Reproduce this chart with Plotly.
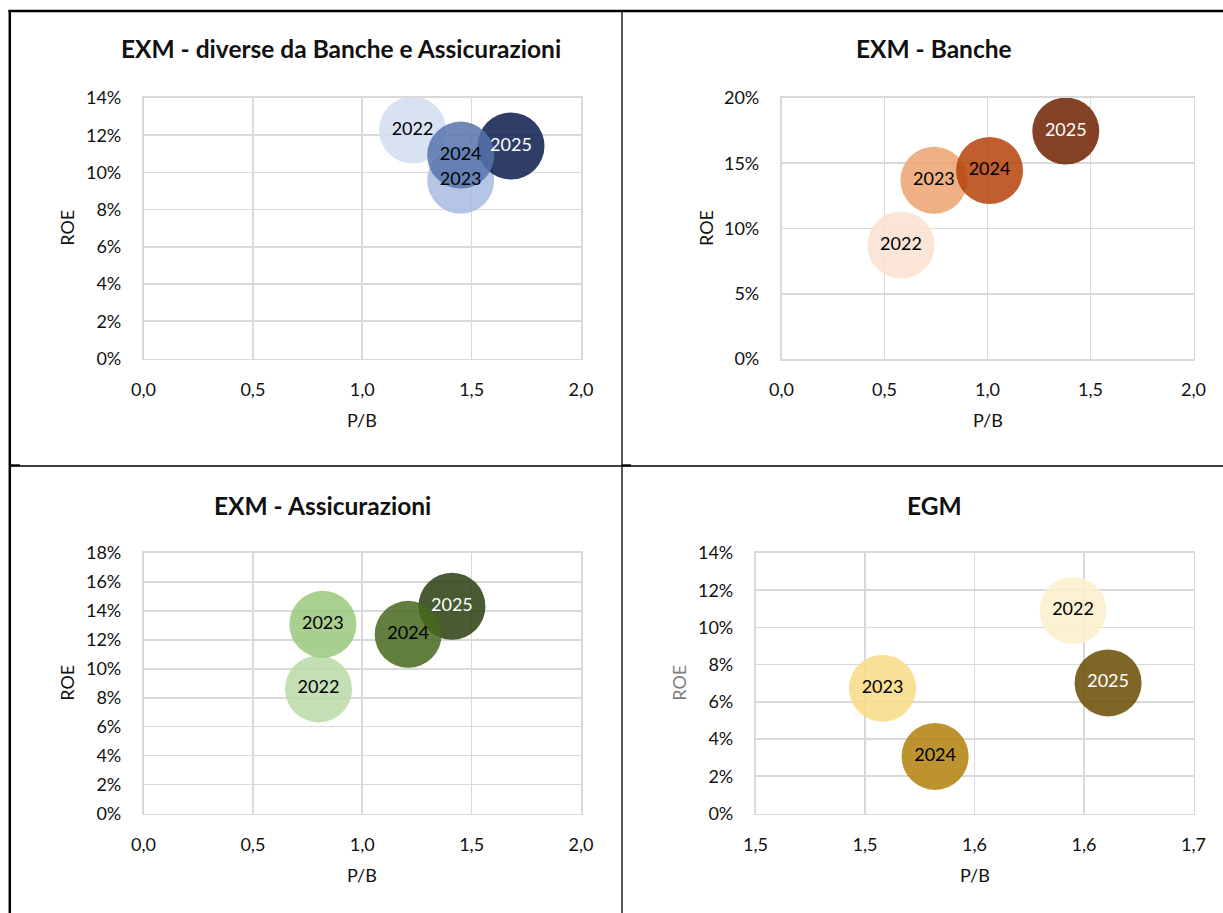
import plotly.graph_objects as go

W, H = 1223, 913

# ---------------- data ----------------
years = ["2022", "2023", "2024", "2025"]

pb_altre = [1.23, 1.45, 1.45, 1.68]
roe_altre = [0.1228, 0.0958, 0.1093, 0.1142]

pb_banche = [0.58, 0.74, 1.01, 1.38]
roe_banche = [0.0873, 0.1370, 0.1444, 0.1747]

pb_assic = [0.80, 0.82, 1.21, 1.41]
roe_assic = [0.0861, 0.1307, 0.1238, 0.1432]

pb_egm = [1.595, 1.508, 1.532, 1.611]
roe_egm = [0.1091, 0.0673, 0.0307, 0.0702]

titles = ["EXM - diverse da Banche e Assicurazioni", "EXM - Banche",
          "EXM - Assicurazioni", "EGM"]

x_ticks_std = [0.0, 0.5, 1.0, 1.5, 2.0]
x_ticks_egm = [1.45, 1.50, 1.55, 1.60, 1.65]
x_ticktext_egm = ["1,5", "1,5", "1,6", "1,6", "1,7"]

# ---------------- styles ----------------
col_altre = ["#D9E2F3", "#B4C5E6", "#6F88B8", "#2E3E67"]
col_banche = ["#FBE5D7", "#EEB084", "#C05E2D", "#834224"]
col_assic = ["#C5DFB4", "#A9D08E", "#627F3F", "#4A5A33"]
col_egm = ["#FCF2D3", "#F8E097", "#BC932F", "#7F6528"]
txtcol = ["black", "black", "black", "white"]

ALPHA = 0.85


def rgba_on_white(hexc, a=ALPHA):
    h = hexc.lstrip("#")
    t = [int(h[i:i + 2], 16) for i in (0, 2, 4)]
    b = [max(0, min(255, round((v - (1 - a) * 255) / a))) for v in t]
    return f"rgba({b[0]},{b[1]},{b[2]},{a})"


def px_x(x):
    return x / W


def px_y(y):
    return 1 - y / H


FONT = "Lato, Carlito, 'Open Sans', sans-serif"
FS = 18

# plot-area rectangles in pixels: (left, top, right, bottom)
areas = [
    (143.5, 98.0, 581.0, 358.5),
    (781.5, 98.0, 1193.5, 359.0),
    (143.5, 553.0, 581.0, 813.5),
    (755.5, 553.0, 1193.5, 813.5),
]

panels = [
    (pb_altre, roe_altre, col_altre, [0, 1, 3, 2], [0, 2], [0, 0.14], 0.02),
    (pb_banche, roe_banche, col_banche, [0, 1, 2, 3], [0, 2], [0, 0.20], 0.05),
    (pb_assic, roe_assic, col_assic, [0, 1, 3, 2], [0, 2], [0, 0.18], 0.02),
    (pb_egm, roe_egm, col_egm, [0, 1, 2, 3], [1.45, 1.65], [0, 0.14], 0.02),
]

fig = go.Figure()
layout_axes = {}
annotations = []

for i, (pb, roe, cols, order, xr, yr, ydt) in enumerate(panels):
    n = i + 1
    xa = "x" if n == 1 else f"x{n}"
    ya = "y" if n == 1 else f"y{n}"
    l, t, r, b = areas[i]
    fig.add_trace(go.Scatter(
        x=[pb[k] for k in order],
        y=[roe[k] for k in order],
        text=[years[k] for k in order],
        mode="markers+text",
        textposition="middle center",
        textfont=dict(family=FONT, size=FS, color=[txtcol[k] for k in order]),
        marker=dict(size=67, sizemode="diameter",
                    color=[rgba_on_white(cols[k]) for k in order],
                    line=dict(width=0)),
        xaxis=xa, yaxis=ya, showlegend=False, hoverinfo="x+y+text",
        cliponaxis=False,
    ))
    xkey = "xaxis" if n == 1 else f"xaxis{n}"
    ykey = "yaxis" if n == 1 else f"yaxis{n}"
    xdict = dict(
        domain=[px_x(l), px_x(r)], range=xr, anchor=ya, automargin=False,
        showgrid=True, gridcolor="#D9D9D9", gridwidth=1.6,
        showline=True, linecolor="#D9D9D9", linewidth=1.6, mirror=True,
        zeroline=False, ticks="outside", ticklen=14, tickcolor="rgba(0,0,0,0)",
        tickfont=dict(family=FONT, size=FS, color="#111111"),
        fixedrange=True,
    )
    if i == 3:
        xdict.update(tickmode="array", tickvals=x_ticks_egm, ticktext=x_ticktext_egm)
    else:
        xdict.update(tickmode="array", tickvals=x_ticks_std, tickformat=".1f")
    ydict = dict(
        domain=[px_y(b), px_y(t)], range=yr, anchor=xa, automargin=False,
        dtick=ydt, tick0=0, tickformat=".0%",
        showgrid=True, gridcolor="#D9D9D9", gridwidth=1.6,
        showline=True, linecolor="#D9D9D9", linewidth=1.6, mirror=True,
        zeroline=False, ticks="outside", ticklen=17, tickcolor="rgba(0,0,0,0)",
        tickfont=dict(family=FONT, size=FS, color="#111111"),
        fixedrange=True,
    )
    layout_axes[xkey] = xdict
    layout_axes[ykey] = ydict

    cx = (l + r) / 2
    cy = (t + b) / 2
    # axis titles
    annotations.append(dict(
        x=px_x(cx), y=px_y(b + 61), xref="paper", yref="paper",
        text="P/B", showarrow=False, xanchor="center", yanchor="middle",
        font=dict(family=FONT, size=FS, color="#111111")))
    annotations.append(dict(
        x=px_x(l - 76), y=px_y(cy), xref="paper", yref="paper",
        text="ROE", showarrow=False, textangle=-90,
        xanchor="center", yanchor="middle",
        font=dict(family=FONT, size=FS,
                  color="#7F7F7F" if i == 3 else "#111111")))

# chart titles
title_pos = [(341, 49), (934, 49), (322, 505), (934, 505)]
for (tx, ty), ttl in zip(title_pos, titles):
    annotations.append(dict(
        x=px_x(tx), y=px_y(ty), xref="paper", yref="paper",
        text=f"<b>{ttl}</b>", showarrow=False, xanchor="center", yanchor="middle",
        font=dict(family=FONT, size=24.5, color="#111111")))

# frame lines (table-like borders)
shapes = []


def hline(x0, x1, y, w):
    shapes.append(dict(type="line", xref="paper", yref="paper",
                       x0=px_x(x0), x1=px_x(x1), y0=px_y(y), y1=px_y(y),
                       line=dict(color="black", width=w)))


def vline(x, y0, y1, w):
    shapes.append(dict(type="line", xref="paper", yref="paper",
                       x0=px_x(x), x1=px_x(x), y0=px_y(y0), y1=px_y(y1),
                       line=dict(color="black", width=w)))


hline(8.5, W, 11, 2.5)
vline(9.8, 10, H, 2.5)
vline(622, 11, H, 1.3)
hline(10, W, 466, 1.3)
hline(11, 20, 465.3, 2)
hline(622, 631, 465.3, 2)

fig.update_layout(
    width=W, height=H,
    margin=dict(l=0, r=0, t=0, b=0, pad=0, autoexpand=False),
    paper_bgcolor="white", plot_bgcolor="white",
    separators=",.",
    font=dict(family=FONT, size=FS, color="#111111"),
    annotations=annotations,
    shapes=shapes,
    showlegend=False,
    hovermode=False,
    **layout_axes,
)

fig.write_html(
    "out.html",
    config={"displayModeBar": False, "staticPlot": True},
    post_script="document.body.style.margin='0px';document.body.style.overflow='hidden';",
)
